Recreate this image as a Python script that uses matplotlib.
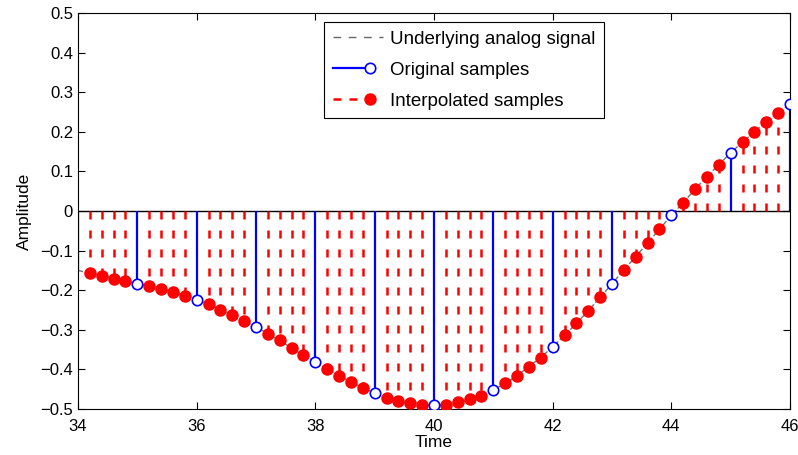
import numpy as np
import matplotlib.pyplot as plt
from matplotlib.lines import Line2D
from matplotlib.legend_handler import HandlerLine2D

plt.rcParams['font.family'] = ['Liberation Sans', 'DejaVu Sans']

# original samples (one per time unit)
t_orig = [34, 35, 36, 37, 38, 39, 40, 41, 42, 43, 44, 45, 46]
x_orig = [-0.150, -0.184, -0.225, -0.292, -0.381, -0.460, -0.491,
          -0.452, -0.343, -0.184, -0.011, 0.147, 0.270]

# interpolated samples (4 between each pair of original samples)
x_interp = [-0.157, -0.164, -0.172, -0.178,
            -0.189, -0.198, -0.205, -0.214,
            -0.236, -0.249, -0.263, -0.278,
            -0.310, -0.327, -0.346, -0.364,
            -0.399, -0.416, -0.432, -0.446,
            -0.471, -0.479, -0.486, -0.490,
            -0.489, -0.483, -0.476, -0.466,
            -0.435, -0.416, -0.393, -0.370,
            -0.314, -0.284, -0.252, -0.218,
            -0.149, -0.115, -0.081, -0.046,
            0.021, 0.055, 0.087, 0.117,
            0.174, 0.200, 0.225, 0.248]
t_interp = [round(a + k * 0.2, 1) for a in t_orig[:-1] for k in range(1, 5)]

# the analog signal goes through every sample
t_all = np.array(t_orig + t_interp)
x_all = np.array(x_orig + x_interp)
order = np.argsort(t_all)


class MarqueurAuBout(HandlerLine2D):  # line stops at the marker, like in matlab
    def create_artists(self, legend, orig_handle, xdescent, ydescent, width, height, fontsize, trans):
        arts = super().create_artists(legend, orig_handle, xdescent, ydescent, width, height, fontsize, trans)
        ligne = arts[0]
        xd = ligne.get_xdata()
        yd = ligne.get_ydata()
        xm = xd[0] + 0.74 * (xd[-1] - xd[0])
        ligne.set_data([xd[0], xm], [yd[0], yd[0]])
        ligne.set_marker('None')
        m = Line2D([xm], [yd[0]], ls='none', marker=orig_handle.get_marker(),
                   ms=orig_handle.get_markersize(), mfc=orig_handle.get_markerfacecolor(),
                   mec=orig_handle.get_markeredgecolor(), mew=orig_handle.get_markeredgewidth())
        m.set_transform(trans)
        return [ligne, m]


fig = plt.figure(figsize=(7.98, 4.55), dpi=100)
ax = fig.add_axes([0.0977, 0.1011, 0.8923, 0.8703])

ax.plot(t_all[order], x_all[order], '--', color='0.45', lw=1.0, zorder=1)

ax.vlines(t_interp, 0, x_interp, colors='red', linestyles=(0, (3.2, 4.4)), lw=1.8, zorder=2)
ax.plot(t_interp, x_interp, 'o', color='red', ms=8, zorder=3)

ax.vlines(t_orig, 0, x_orig, colors='blue', lw=1.6, zorder=2)
ax.plot(t_orig[1:], x_orig[1:], 'o', mfc='white', mec='blue', mew=1.2, ms=7.5, zorder=4)

ax.axhline(0, color='black', lw=1.0, zorder=1.5)

ax.set_xlim(34, 46)
ax.set_ylim(-0.5, 0.5)
ax.set_xticks(np.arange(34, 47, 2))
ax.set_yticks(np.round(np.arange(-0.5, 0.51, 0.1), 1))
ax.set_yticklabels(['\u22120.5', '\u22120.4', '\u22120.3', '\u22120.2', '\u22120.1',
                    '0', '0.1', '0.2', '0.3', '0.4', '0.5'])
ax.tick_params(direction='in', top=True, right=True, labelsize=12, length=5)
ax.tick_params(axis='x', pad=7)
ax.set_xlabel('Time', fontsize=12.5, labelpad=1)
ax.set_ylabel('Amplitude', fontsize=12.5, labelpad=6)

h1 = Line2D([], [], color='0.4', ls=(0, (5.5, 5.5)), lw=1.0)
h2 = Line2D([], [], color='blue', lw=1.6, marker='o', mfc='white', mec='blue', mew=1.2, ms=7.5)
h3 = Line2D([], [], color='red', ls=(0, (3.2, 3.2)), lw=1.8, marker='o', ms=8)
leg = ax.legend([h1, h2, h3], ['Underlying analog signal', 'Original samples', 'Interpolated samples'],
                loc='upper center', bbox_to_anchor=(0.542, 0.977), fontsize=13.5,
                handler_map={h2: MarqueurAuBout(), h3: MarqueurAuBout()},
                handlelength=2.67, handletextpad=0.37, fancybox=False, edgecolor='black', framealpha=1,
                borderpad=0.45, labelspacing=0.75, borderaxespad=0)
leg.get_frame().set_linewidth(0.8)

fig.savefig('out.png', dpi=100)
